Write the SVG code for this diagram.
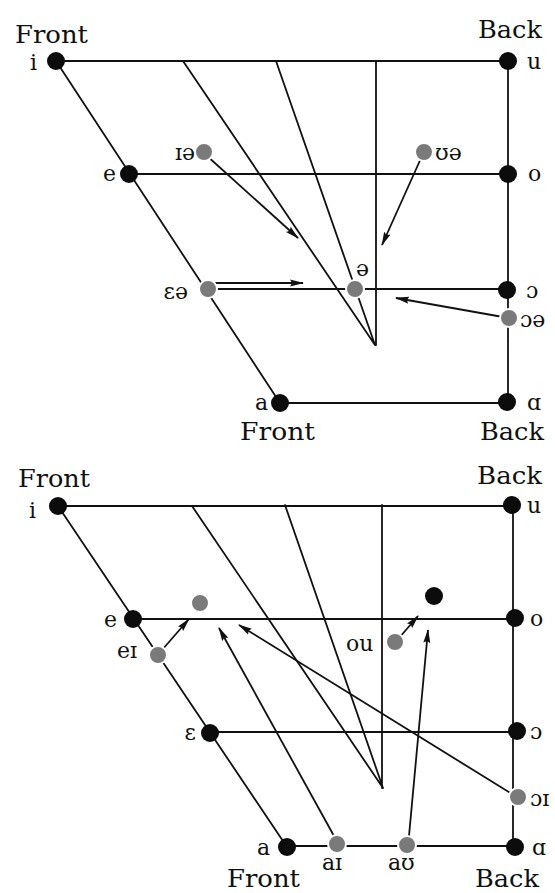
<svg xmlns="http://www.w3.org/2000/svg" width="555" height="893" viewBox="0 0 555 893">
<style>
.ln{stroke:#111;stroke-width:1.8;fill:none;stroke-linecap:round}
.ar{stroke:#111;stroke-width:1.8;fill:none;marker-end:url(#ah)}
.bk{fill:#0c0c0c}
.gy{fill:#7a7a7a;stroke:#fff;stroke-width:2}
.lb{font-family:"DejaVu Serif","Liberation Serif",serif;font-size:22px;fill:#111}
.hd{font-family:"DejaVu Serif","Liberation Serif",serif;font-size:24px;fill:#111}
</style>
<defs>
<marker id="ah" markerUnits="userSpaceOnUse" markerWidth="14" markerHeight="8" refX="13" refY="4" orient="auto">
<path d="M0,0.5 L14,4 L0,7.5 L2,4 z" fill="#111"/>
</marker>
</defs>
<rect width="555" height="893" fill="#fff"/>

<!-- TOP CHART -->
<g id="top-frame" class="ln">
<path d="M56,61 L508,61 M56,61 L280,403 M508,61 L508,403 M129,174 L508,174 M208,289 L507,289 M280,403 L507,403 M183,61 L375,345 M276,61 L375,345 M376,61 L376,345"/>
</g>
<g id="top-connectors">
<path class="ar" d="M206,155 L298,238"/>
<path class="ar" d="M422,156 L382,245"/>
<path class="ar" d="M214,283 L303,283"/>
<path class="ar" d="M503,317 L396,298"/>
</g>
<g id="top-headings">
<text class="hd" x="15" y="43" textLength="73" lengthAdjust="spacingAndGlyphs">Front</text>
<text class="hd" x="478" y="38" textLength="64" lengthAdjust="spacingAndGlyphs">Back</text>
<text class="hd" x="240" y="440" textLength="75" lengthAdjust="spacingAndGlyphs">Front</text>
<text class="hd" x="480" y="440" textLength="64" lengthAdjust="spacingAndGlyphs">Back</text>
</g>
<g id="t-i"><circle class="bk" cx="56" cy="61" r="9"/><text class="lb" x="30" y="70">i</text></g>
<g id="t-u"><circle class="bk" cx="508" cy="61" r="9"/><text class="lb" x="527" y="69">u</text></g>
<g id="t-e"><circle class="bk" cx="129" cy="174" r="9"/><text class="lb" x="116" y="181" text-anchor="end">e</text></g>
<g id="t-o"><circle class="bk" cx="508" cy="174" r="9"/><text class="lb" x="528" y="181">o</text></g>
<g id="t-open-o"><circle class="bk" cx="507" cy="290" r="9"/><text class="lb" x="526" y="298">ɔ</text></g>
<g id="t-a"><circle class="bk" cx="280" cy="403" r="9"/><text class="lb" x="268" y="410" text-anchor="end">a</text></g>
<g id="t-alpha"><circle class="bk" cx="507" cy="402" r="9"/><text class="lb" x="527" y="410">ɑ</text></g>
<g id="t-ie"><circle class="gy" cx="204" cy="152" r="9"/><text class="lb" x="195" y="160" text-anchor="end">ɪə</text></g>
<g id="t-ue"><circle class="gy" cx="424" cy="152" r="9"/><text class="lb" x="435" y="160">ʊə</text></g>
<g id="t-ee"><circle class="gy" cx="208" cy="289" r="9"/><text class="lb" x="188" y="299" text-anchor="end">ɛə</text></g>
<g id="t-schwa"><circle class="gy" cx="355" cy="289" r="9"/><text class="lb" x="356" y="276">ə</text></g>
<g id="t-oe"><circle class="gy" cx="509" cy="318" r="9"/><text class="lb" x="520" y="327">ɔə</text></g>

<!-- BOTTOM CHART -->
<g id="bottom-frame" class="ln">
<path d="M58,506 L513,506 M58,506 L287,847 M513,506 L513,847 M133,619 L514,619 M210,732 L516,732 M287,846 L515,846 M192,506 L383,788 M285,505 L383,788 M382,505 L382,788"/>
</g>
<g id="bottom-connectors">
<path class="ar" d="M162,650 L189,619"/>
<path class="ar" d="M334,836 L219,628"/>
<path class="ar" d="M512,794 L239,625"/>
<path class="ar" d="M409,836 L428,630"/>
<path class="ar" d="M399,638 L418,616"/>
</g>
<g id="bottom-headings">
<text class="hd" x="18" y="487" textLength="72" lengthAdjust="spacingAndGlyphs">Front</text>
<text class="hd" x="477" y="484" textLength="65" lengthAdjust="spacingAndGlyphs">Back</text>
<text class="hd" x="227" y="887" textLength="73" lengthAdjust="spacingAndGlyphs">Front</text>
<text class="hd" x="475" y="887" textLength="64" lengthAdjust="spacingAndGlyphs">Back</text>
</g>
<g id="b-i"><circle class="bk" cx="58" cy="506" r="9"/><text class="lb" x="29" y="518">i</text></g>
<g id="b-u"><circle class="bk" cx="512" cy="505" r="9"/><text class="lb" x="527" y="513">u</text></g>
<g id="b-e"><circle class="bk" cx="133" cy="619" r="9"/><text class="lb" x="117" y="627" text-anchor="end">e</text></g>
<g id="b-o"><circle class="bk" cx="515" cy="618" r="9"/><text class="lb" x="530" y="626">o</text></g>
<g id="b-target-front"><circle class="gy" cx="200" cy="603" r="9"/></g>
<g id="b-target-back"><circle class="bk" cx="434" cy="596" r="9"/></g>
<g id="b-ei"><circle class="gy" cx="158" cy="655" r="9"/><text class="lb" x="117" y="658">eɪ</text></g>
<g id="b-ou"><circle class="gy" cx="395" cy="642" r="9"/><text class="lb" x="346" y="651">ou</text></g>
<g id="b-epsilon"><circle class="bk" cx="210" cy="733" r="9"/><text class="lb" x="196" y="740" text-anchor="end">ɛ</text></g>
<g id="b-open-o"><circle class="bk" cx="517" cy="731" r="9"/><text class="lb" x="530" y="739">ɔ</text></g>
<g id="b-oi"><circle class="gy" cx="518" cy="797" r="9"/><text class="lb" x="530" y="806">ɔɪ</text></g>
<g id="b-a"><circle class="bk" cx="287" cy="847" r="9"/><text class="lb" x="270" y="855" text-anchor="end">a</text></g>
<g id="b-ai"><circle class="gy" cx="337" cy="844" r="9"/><text class="lb" x="322" y="870">aɪ</text></g>
<g id="b-au"><circle class="gy" cx="407" cy="845" r="9"/><text class="lb" x="388" y="870">aʊ</text></g>
<g id="b-alpha"><circle class="bk" cx="515" cy="847" r="9"/><text class="lb" x="532" y="855">ɑ</text></g>
</svg>
